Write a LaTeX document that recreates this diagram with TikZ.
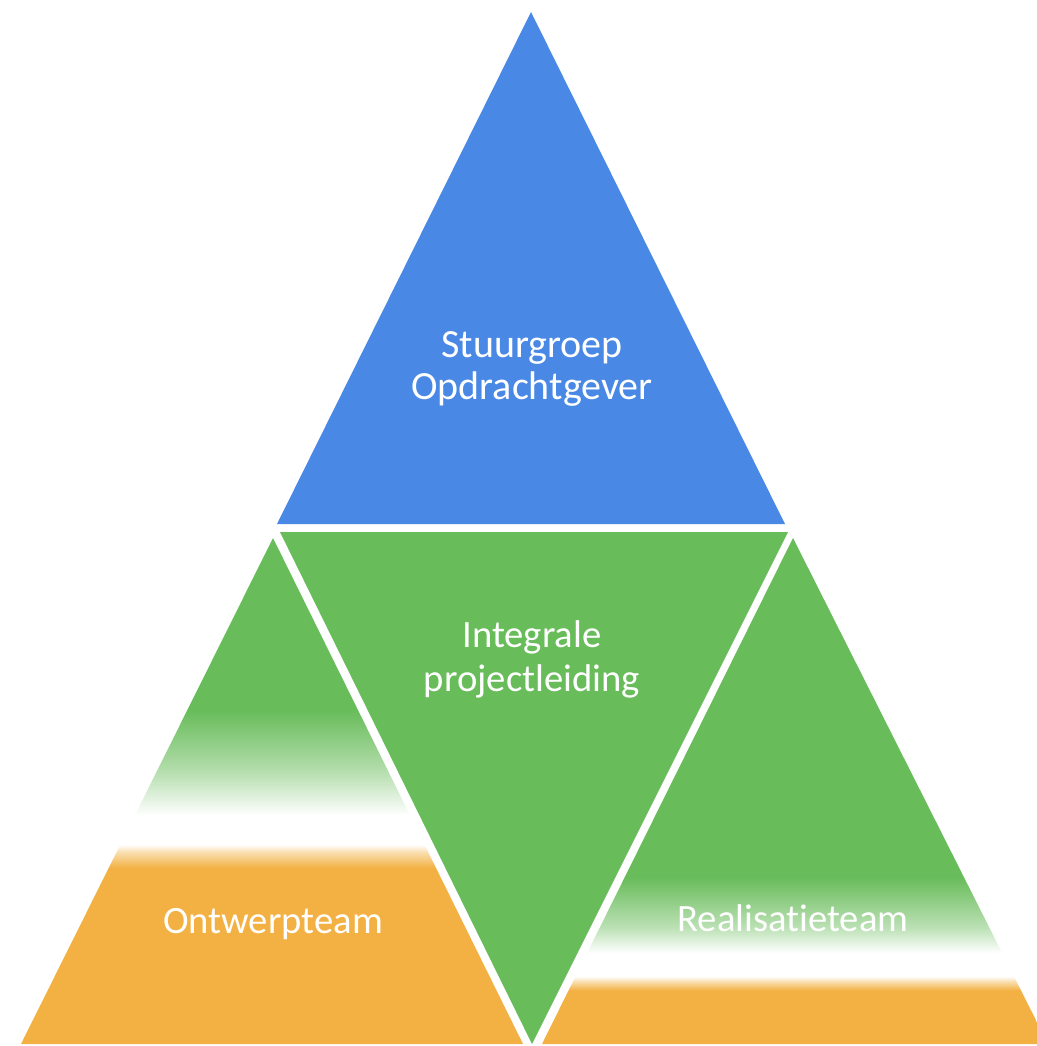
\documentclass[tikz,border=0pt]{standalone}
\usepackage{fontspec}
\setmainfont{Carlito}[Ligatures=CommonOff]
\definecolor{stuurblauw}{RGB}{73,137,229}
\definecolor{teamgroen}{RGB}{104,188,90}
\definecolor{teamoranje}{RGB}{243,177,67}
\colorlet{groenhalf}{teamgroen!50!white}
\colorlet{groenbleek}{teamgroen!45!white}
\colorlet{oranjebleek}{teamoranje!40!white}
\pgfdeclareverticalshading{ontwerpfade}{100bp}{color(0bp)=(teamoranje); color(42.4bp)=(teamoranje); color(44bp)=(oranjebleek); color(44.7bp)=(white); color(47.6bp)=(white); color(52bp)=(groenhalf); color(58bp)=(teamgroen); color(100bp)=(teamgroen)}
\pgfdeclareverticalshading{realisatiefade}{100bp}{color(0bp)=(teamoranje); color(30.3bp)=(teamoranje); color(31.2bp)=(oranjebleek); color(31.7bp)=(white); color(34bp)=(white); color(36.5bp)=(groenbleek); color(41.5bp)=(teamgroen); color(100bp)=(teamgroen)}
\tikzset{every picture/.style={line width=0.75pt}}
\tikzset{teamlabel/.style={text=white, align=center, inner sep=0.75pt, font=\fontsize{29}{31}\selectfont}}

\begin{document}
\begin{tikzpicture}[x=0.75pt,y=0.75pt,yscale=-1,xscale=1]
\useasboundingbox (0,0) rectangle (1036,1046);

%Shape: Triangle
\fill [stuurblauw] (531,12) -- (785,524) -- (277,524) -- cycle ;
%Shape: Triangle
\fill [teamgroen] (280,532) -- (788,532) -- (532,1044) -- cycle ;
%Shape: Triangle
\shade [shading=ontwerpfade] (273,538) -- (523,1044) -- (21,1044) -- cycle ;
%Shape: Triangle
\shade [shading=realisatiefade] (793,538) -- (1048,1044) -- (542,1044) -- cycle ;

% Text Node
\node [teamlabel, font=\fontsize{30}{31}\selectfont] (stuurgroep) at (532,369) {Stuurgroep\\Opdrachtgever};
% Text Node
\node [teamlabel, font=\fontsize{29}{33}\selectfont] (projectleiding) at (532,659) {Integrale\\projectleiding};
% Text Node
\node [teamlabel, anchor=base] (ontwerpteam) at (273,933) {Ontwerpteam};
% Text Node
\node [teamlabel, anchor=base] (realisatieteam) at (793,931) {Realisatieteam};

\end{tikzpicture}
\end{document}
